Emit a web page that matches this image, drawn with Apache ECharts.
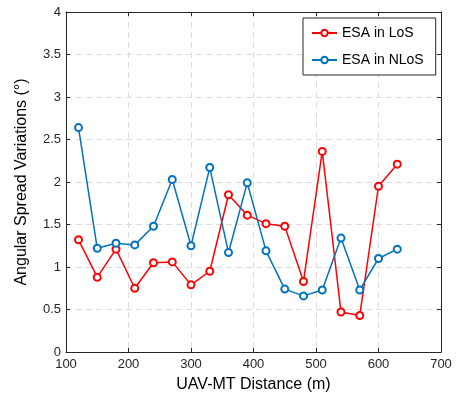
<!DOCTYPE html>
<html>
<head>
<meta charset="utf-8">
<script src="https://cdn.jsdelivr.net/npm/echarts@6/dist/echarts.min.js"></script>
<style>html,body{margin:0;padding:0;background:#fff;}#c{width:456px;height:400px;}</style>
</head>
<body>
<div id="c"></div>
<script>
var distances = [120,150,180,210,240,270,300,330,360,390,420,450,480,510,540,570,600,630];
var losValues = [1.32,0.88,1.21,0.75,1.05,1.06,0.79,0.95,1.85,1.61,1.51,1.48,0.83,2.36,0.47,0.43,1.95,2.21];
var nlosValues = [2.64,1.22,1.28,1.26,1.48,2.03,1.25,2.17,1.17,1.99,1.19,0.74,0.66,0.73,1.34,0.73,1.10,1.21];
var seriesNames = ['ESA in LoS','ESA in NLoS'];
var xTicks = [100,200,300,400,500,600,700];
var yTicks = [0,0.5,1,1.5,2,2.5,3,3.5,4];

function pairs(vals){ return distances.map(function(d,i){ return [d, vals[i]]; }); }
var font = 'Liberation Sans, Arial, Helvetica, sans-serif';
var axisColor = '#262626';
var grid = {color:'#dcdcdc',type:[6,4],width:1};
function boxAxis(extra){
  return Object.assign({
    type:'value', axisLabel:{show:false}, splitLine:{show:false},
    axisLine:{show:true,onZero:false,lineStyle:{color:axisColor,width:1}},
    axisTick:{show:true,inside:true,length:4,lineStyle:{color:axisColor}}
  }, extra);
}
var chart = echarts.init(document.getElementById('c'), null, {renderer:'canvas'});
chart.setOption({
  animation:false,
  backgroundColor:'#fff',
  grid:{left:66,right:15,top:12,bottom:48},
  legend:{
    data:seriesNames, orient:'vertical', left:303, top:18,
    backgroundColor:'#fff', borderColor:axisColor, borderWidth:1, borderRadius:0,
    padding:[8,12,8,8], itemWidth:25, itemHeight:8, itemGap:13,
    textStyle:{fontFamily:font,fontSize:14,color:'#000'}
  },
  xAxis:[{
    type:'value', min:100, max:700, interval:100,
    name:'UAV-MT Distance (m)', nameLocation:'middle', nameGap:25,
    nameTextStyle:{fontFamily:font,fontSize:16,color:'#000'},
    axisLine:{show:true,onZero:false,lineStyle:{color:axisColor,width:1}},
    axisTick:{show:true,inside:true,length:4,lineStyle:{color:axisColor}},
    axisLabel:{fontFamily:font,fontSize:13,color:axisColor,margin:6},
    splitLine:{show:true,lineStyle:grid}
  }, boxAxis({position:'top', min:100, max:700, interval:100})],
  yAxis:[{
    type:'value', min:0, max:4, interval:0.5,
    name:'Angular Spread Variations (°)', nameLocation:'middle', nameGap:36,
    nameTextStyle:{fontFamily:font,fontSize:16,color:'#000'},
    axisLine:{show:true,lineStyle:{color:axisColor,width:1}},
    axisTick:{show:true,inside:true,length:4,lineStyle:{color:axisColor}},
    axisLabel:{fontFamily:font,fontSize:13,color:axisColor,margin:5},
    splitLine:{show:true,lineStyle:grid}
  }, boxAxis({position:'right', min:0, max:4, interval:0.5})],
  series:[
    {name:seriesNames[0], type:'line', data:pairs(losValues), symbol:'emptyCircle', symbolSize:7,
     itemStyle:{color:'#ff0000',borderWidth:1.5}, lineStyle:{color:'#ff0000',width:1.5}, z:3},
    {name:seriesNames[1], type:'line', data:pairs(nlosValues), symbol:'emptyCircle', symbolSize:7,
     itemStyle:{color:'#0072BD',borderWidth:1.5}, lineStyle:{color:'#0072BD',width:1.5}, z:3}
  ]
});
</script>
</body>
</html>
